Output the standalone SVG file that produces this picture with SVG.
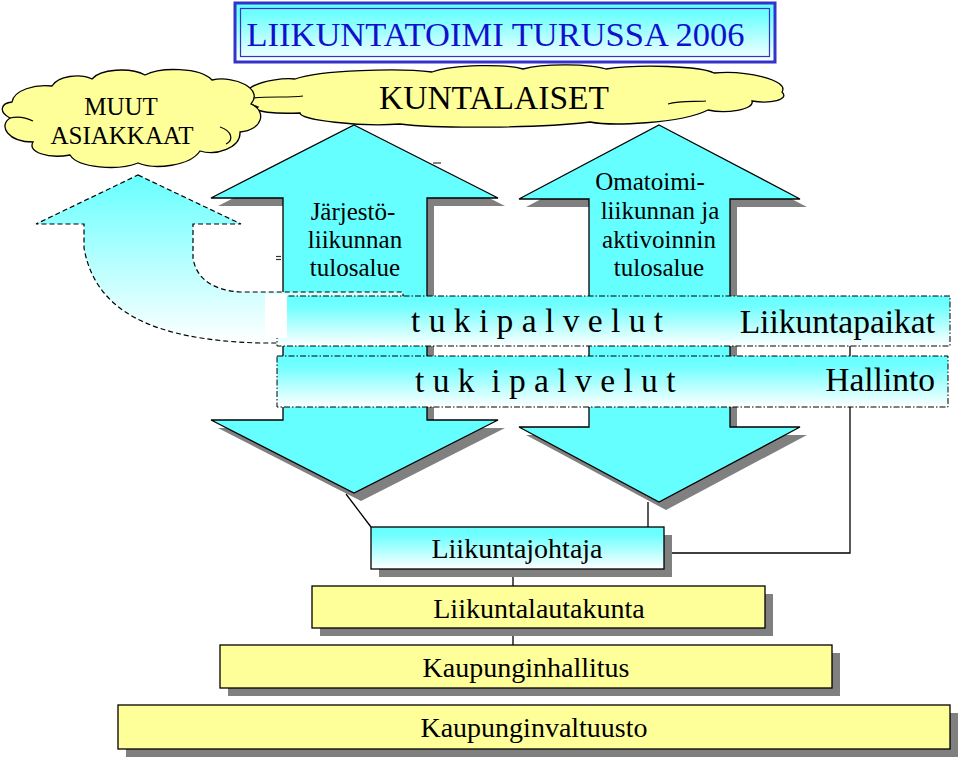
<svg xmlns="http://www.w3.org/2000/svg" width="960" height="758" viewBox="0 0 960 758">
<defs>
<linearGradient id="gv" x1="0" y1="0" x2="0" y2="1">
<stop offset="0" stop-color="#66ffff"/>
<stop offset="0.2" stop-color="#70ffff"/>
<stop offset="1" stop-color="#ffffff"/>
</linearGradient>
<linearGradient id="gcurve" gradientUnits="userSpaceOnUse" x1="0" y1="175" x2="0" y2="343">
<stop offset="0" stop-color="#66ffff"/>
<stop offset="1" stop-color="#ffffff"/>
</linearGradient>
</defs>
<style>
text{font-family:"Liberation Serif","Times New Roman",serif;fill:#000}
.title{fill:#1111cc}
.cloud{fill:#ffff99;stroke:#000;stroke-width:1.3}
.inner{fill:none;stroke:#000;stroke-width:1.2}
.arrow{fill:#66ffff;stroke:#000;stroke-width:1.3}
.shadow{fill:#808080}
.band{fill:url(#gv);stroke:#000;stroke-width:1;stroke-dasharray:6 2 1.5 2}
.box{stroke:#000;stroke-width:1.3}
.cy{fill:url(#gv)}
.ye{fill:#ffff99}
.line{stroke:#000;stroke-width:1.3;fill:none}
.big{font-size:33.5px}
.mid{font-size:28px}
.sm{font-size:25px}
</style>
<rect width="960" height="758" fill="#fff"/>

<g id="title">
<rect x="235" y="3" width="540" height="59" fill="url(#gv)" stroke="#3333cc" stroke-width="3"/>
<rect x="240.5" y="8.5" width="529" height="48" fill="none" stroke="#3333cc" stroke-width="1.2"/>
<text class="title" x="495.5" y="46" text-anchor="middle" style="font-size:34.5px">LIIKUNTATOIMI TURUSSA 2006</text>
</g>

<g id="kuntalaiset">
<path class="cloud" d="M250,88 C262,80 285,78 295,79 C320,70 400,68 432,72 C455,64 505,64 523,69 C545,63 590,64 606,69 C640,64 700,66 714,73 C745,70 790,80 782,92 C790,100 770,104 752,101 C755,110 725,114 708,110 C680,124 610,126 590,122 C540,128 440,129 400,124 C360,127 300,120 300,113 C275,114 252,112 258,107 C245,103 240,93 250,88 Z"/>
<path class="inner" d="M253,98 C270,96 288,98 303,96 M668,104 C680,100 695,102 706,101"/>
<text class="big" x="494" y="109" text-anchor="middle">KUNTALAISET</text>
</g>

<g id="muut">
<path class="cloud" d="M12,102 C14,90 35,84 52,86 C58,76 80,73 92,79 C100,69 130,67 145,75 C160,67 200,67 212,80 C235,75 264,89 251,104 C267,111 263,130 240,132 C241,148 216,156 200,151 C190,166 155,170 138,163 C118,171 78,168 70,155 C48,159 27,152 33,142 C8,142 -2,126 10,118 C-2,112 1,103 12,102 Z"/>
<path class="inner" d="M10,118 C18,116 27,118 33,121 M220,127 C232,131 234,140 226,144"/>
<text class="sm" x="121" y="115" text-anchor="middle">MUUT</text>
<text class="sm" x="122" y="144" text-anchor="middle">ASIAKKAAT</text>
</g>

<g id="arrow-jarjesto">
<polygon class="shadow" transform="translate(7,8)" points="354,125 498,198 427,198 427,420 498,420 354,493 211,420 283,420 283,198 211,198"/>
<polygon class="arrow" points="354,125 498,198 427,198 427,420 498,420 354,493 211,420 283,420 283,198 211,198"/>
<text class="sm" x="353" y="220" text-anchor="middle">Järjestö-</text>
<text class="sm" x="355" y="248" text-anchor="middle">liikunnan</text>
<text class="sm" x="355" y="276" text-anchor="middle">tulosalue</text>
</g>

<g id="arrow-omatoimi">
<polygon class="shadow" transform="translate(7,8)" points="659,125 800,199 730,199 730,427 800,427 659,502 519,427 589,427 589,199 519,199"/>
<polygon class="arrow" points="659,125 800,199 730,199 730,427 800,427 659,502 519,427 589,427 589,199 519,199"/>
<text class="sm" x="650" y="190" text-anchor="middle">Omatoimi-</text>
<text class="sm" x="660" y="219" text-anchor="middle">liikunnan ja</text>
<text class="sm" x="659" y="248" text-anchor="middle">aktivoinnin</text>
<text class="sm" x="659" y="276" text-anchor="middle">tulosalue</text>
</g>

<g id="arrow-muut">
<path d="M138,175 L241,224 L193,224 L193,258 C196,278 212,290 240,292 L403,292 L403,343 L260,343 C150,340 95,310 84,248 L84,224 L36,224 Z" fill="url(#gcurve)" stroke="#000" stroke-width="1.2" stroke-dasharray="5 3"/>
</g>

<g id="marks" stroke="#333" stroke-width="1.2">
<line x1="276" y1="256.5" x2="281" y2="256.5"/>
<line x1="276" y1="259.5" x2="281" y2="259.5"/>
<line x1="433" y1="163" x2="441" y2="163"/>
</g>

<g id="band-tukipalvelut">
<rect class="band" x="277" y="296" width="673" height="50"/>
<rect x="265" y="294" width="22" height="44" fill="#fff"/>
<text class="big" x="411" y="332" style="white-space:pre">t u k i p a l v e l u t</text>
<text class="big" x="935" y="333" text-anchor="end">Liikuntapaikat</text>
</g>

<g id="band-hallinto">
<rect class="band" x="277" y="356" width="671" height="51"/>
<text class="big" x="415" y="392" style="white-space:pre">t u k  i p a l v e l u t</text>
<text class="big" x="935" y="391" text-anchor="end">Hallinto</text>
</g>

<g id="connectors">
<line class="line" x1="346" y1="494" x2="371" y2="527"/>
<line class="line" x1="648" y1="502" x2="648" y2="527"/>
<polyline class="line" points="850,407 850,553 664,553"/>
<line class="line" x1="850" y1="346" x2="850" y2="356"/>
<line class="line" x1="513" y1="569" x2="513" y2="586"/>
<line class="line" x1="513" y1="628" x2="513" y2="645"/>
</g>

<g id="liikuntajohtaja">
<rect class="shadow" x="379" y="535" width="293" height="42"/>
<rect class="box cy" x="371" y="527" width="293" height="42"/>
<text class="mid" x="517" y="558" text-anchor="middle">Liikuntajohtaja</text>
</g>

<g id="liikuntalautakunta">
<rect class="shadow" x="320" y="594" width="453" height="42"/>
<rect class="box ye" x="312" y="586" width="453" height="42"/>
<text class="mid" x="539" y="618" text-anchor="middle">Liikuntalautakunta</text>
</g>

<g id="kaupunginhallitus">
<rect class="shadow" x="228" y="653" width="612" height="43"/>
<rect class="box ye" x="220" y="645" width="612" height="43"/>
<text class="mid" x="526" y="677" text-anchor="middle">Kaupunginhallitus</text>
</g>

<g id="kaupunginvaltuusto">
<rect class="shadow" x="126" y="713" width="832" height="44"/>
<rect class="box ye" x="118" y="705" width="832" height="44"/>
<text class="mid" x="534" y="737" text-anchor="middle">Kaupunginvaltuusto</text>
</g>
</svg>
